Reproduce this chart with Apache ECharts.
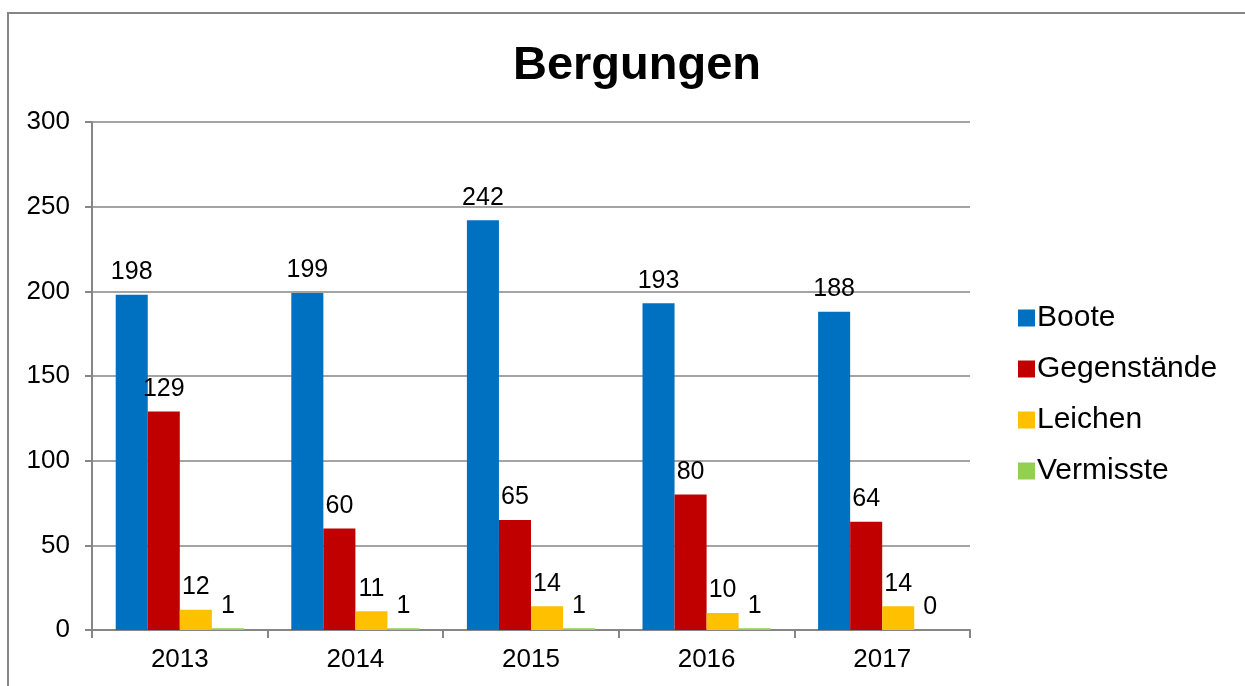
<!DOCTYPE html>
<html>
<head>
<meta charset="utf-8">
<script src="https://cdn.jsdelivr.net/npm/echarts@6/dist/echarts.min.js"></script>
<style>
  html, body { margin: 0; padding: 0; background: #ffffff; }
  #chart { width: 1245px; height: 686px; }
</style>
</head>
<body>
<div id="chart"></div>
<script>
const years = ["2013", "2014", "2015", "2016", "2017"];
const boote = [198, 199, 242, 193, 188];
const gegenstaende = [129, 60, 65, 80, 64];
const leichen = [12, 11, 14, 10, 14];
const vermisste = [1, 1, 1, 1, 0];

const seriesDefs = [
  { name: "Boote", values: boote, color: "#0070C0" },
  { name: "Gegenstände", values: gegenstaende, color: "#C00000" },
  { name: "Leichen", values: leichen, color: "#FFC000" },
  { name: "Vermisste", values: vermisste, color: "#92D050" },
];

const font = "Liberation Sans, Arial, sans-serif";
const gray = "#868686";

const chart = echarts.init(document.getElementById("chart"), null, { renderer: "canvas" });
chart.setOption({
  animation: false,
  color: seriesDefs.map((s) => s.color),
  title: {
    text: "Bergungen",
    left: 632,
    top: 38,
    textAlign: "center",
    textStyle: { fontFamily: font, fontSize: 47, fontWeight: "bold", color: "#000" },
  },
  graphic: [{
    type: "rect",
    shape: { x: 8, y: 13, width: 1400, height: 900 },
    style: { fill: "none", stroke: gray, lineWidth: 2 },
    silent: true,
  }],
  legend: {
    orient: "vertical",
    left: 1013,
    top: 298,
    itemWidth: 17,
    itemHeight: 17,
    itemGap: 21,
    icon: "rect",
    textStyle: { fontFamily: font, fontSize: 30, lineHeight: 30, color: "#000", padding: [0, 0, 0, -3] },
    data: seriesDefs.map((s) => s.name),
  },
  grid: { left: 92, right: 275, top: 122, bottom: 56 },
  xAxis: {
    type: "category",
    data: years,
    axisLine: { lineStyle: { color: gray, width: 2 } },
    axisTick: { show: true, length: 8, lineStyle: { color: gray, width: 2 } },
    axisLabel: { fontFamily: font, fontSize: 26, color: "#000", margin: 17 },
  },
  yAxis: {
    type: "value",
    min: 0,
    max: 300,
    interval: 50,
    axisLine: { show: true, lineStyle: { color: gray, width: 2 } },
    axisTick: { show: true, length: 7, lineStyle: { color: gray, width: 2 } },
    axisLabel: { fontFamily: font, fontSize: 26, color: "#000", margin: 22 },
    splitLine: { lineStyle: { color: gray, width: 1.5 } },
  },
  series: seriesDefs.map((s) => ({
    name: s.name,
    type: "bar",
    data: s.values,
    barGap: "0%",
    barCategoryGap: "27%",
    itemStyle: { color: s.color },
    label: {
      show: true,
      position: "top",
      distance: 10,
      fontFamily: font,
      fontSize: 25,
      color: "#000",
    },
  })),
});
</script>
</body>
</html>
